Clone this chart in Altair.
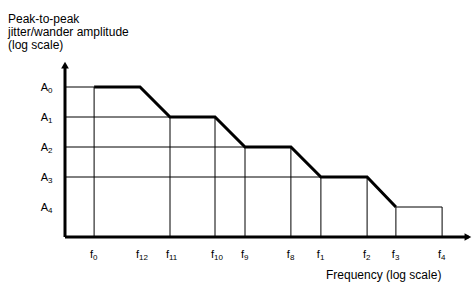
import altair as alt
import pandas as pd

# Frequency breakpoints (log-scale positions, arbitrary units) and labels
freq_base = ["f"] * 10
freq_sub = ["0", "12", "11", "10", "9", "8", "1", "2", "3", "4"]
freq_pos = [0.97, 2.5, 3.5, 5.0, 6.0, 7.53, 8.53, 10.07, 11.03, 12.57]

# Amplitude levels (log-scale positions) and labels
amp_base = ["A"] * 5
amp_sub = ["0", "1", "2", "3", "4"]
amp_pos = [5, 4, 3, 2, 1]

F = dict(zip(["f" + s for s in freq_sub], freq_pos))
A = dict(zip(["A" + s for s in amp_sub], amp_pos))

# mask profile (thick part)
profile_f = ["f0", "f12", "f11", "f10", "f9", "f8", "f1", "f2", "f3"]
profile_a = ["A0", "A0", "A1", "A1", "A2", "A2", "A3", "A3", "A4"]
# thin tail
tail_f = ["f3", "f4"]
tail_a = ["A4", "A4"]
# vertical drop lines: frequency -> level
vert_f = ["f0", "f11", "f10", "f9", "f8", "f1", "f2", "f3", "f4"]
vert_a = ["A0", "A1", "A1", "A2", "A2", "A3", "A3", "A4", "A4"]
# horizontal guide lines: level -> frequency
horiz_a = ["A0", "A1", "A2", "A3"]
horiz_f = ["f0", "f11", "f9", "f1"]

X_MAX = 13.6
Y_MAX = 5.9

font = "Liberation Sans"
MAIN = 11
SUB = 8

xs = alt.Scale(domain=[0, X_MAX], nice=False, zero=False)
ys = alt.Scale(domain=[0, Y_MAX], nice=False, zero=False)

prof = pd.DataFrame({"x": [F[k] for k in profile_f], "y": [A[k] for k in profile_a], "o": range(len(profile_f))})
tail = pd.DataFrame({"x": [F[k] for k in tail_f], "y": [A[k] for k in tail_a], "o": range(2)})
verts = pd.DataFrame({"x": [F[k] for k in vert_f], "y": [A[k] for k in vert_a], "y2": 0})
horiz = pd.DataFrame({"x": 0, "x2": [F[k] for k in horiz_f], "y": [A[k] for k in horiz_a]})
xlab = pd.DataFrame({"x": freq_pos, "b": freq_base, "s": freq_sub})
ylab = pd.DataFrame({"y": amp_pos, "b": amp_base, "s": amp_sub})
axes = pd.DataFrame({"x": [0, 0], "y": [0, 0], "x2": [X_MAX - 0.15, 0], "y2": [0, Y_MAX - 0.2]})
arrows = pd.DataFrame({"x": [X_MAX - 0.17, 0], "y": [0, Y_MAX - 0.17], "a": [90, 0]})

noax = dict(axis=None)
X = lambda f="x:Q": alt.X(f, scale=xs, **noax)
Y = lambda f="y:Q": alt.Y(f, scale=ys, **noax)

vlines = alt.Chart(verts).mark_rule(color="black", strokeWidth=1).encode(x=X(), y=Y(), y2="y2:Q")
hlines = alt.Chart(horiz).mark_rule(color="black", strokeWidth=1).encode(x=X(), x2="x2:Q", y=Y())
tline = alt.Chart(tail).mark_line(color="black", strokeWidth=1).encode(x=X(), y=Y(), order="o:Q")
pline = alt.Chart(prof).mark_line(color="black", strokeWidth=3, strokeJoin="miter").encode(
    x=X(), y=Y(), order="o:Q")
axl = alt.Chart(axes).mark_rule(color="black", strokeWidth=3).encode(x=X(), x2="x2:Q", y=Y(), y2="y2:Q")
arr = alt.Chart(arrows).mark_point(shape="triangle-up", filled=True, color="black", size=60, opacity=1).encode(
    x=X(), y=Y(), angle=alt.Angle("a:Q", scale=None))

# frequency tick labels: base letter + smaller subscript
xlab_b = alt.Chart(xlab).mark_text(
    font=font, fontSize=MAIN, color="black", align="right", baseline="alphabetic", dx=-1).encode(
    x=X(), y=alt.value(198), text="b:N")
xlab_s = alt.Chart(xlab).mark_text(
    font=font, fontSize=SUB, color="black", align="left", baseline="alphabetic", dx=-1).encode(
    x=X(), y=alt.value(200), text="s:N")

# amplitude tick labels
yl_b = alt.Chart(ylab).mark_text(
    font=font, fontSize=MAIN, color="black", align="right", baseline="alphabetic", dy=4).encode(
    x=alt.value(-17), y=Y(), text="b:N")
yl_s = alt.Chart(ylab).mark_text(
    font=font, fontSize=SUB, color="black", align="left", baseline="alphabetic", dy=6).encode(
    x=alt.value(-17), y=Y(), text="s:N")

ytitle = alt.Chart(pd.DataFrame({"t": [["Peak-to-peak", "jitter/wander amplitude", "(log scale)"]]})).mark_text(
    font=font, fontSize=12, color="black", align="left", baseline="alphabetic", lineHeight=13).encode(
    x=alt.value(-57), y=alt.value(-37), text="t")
xtitle = alt.Chart(pd.DataFrame({"t": ["Frequency (log scale)"]})).mark_text(
    font=font, fontSize=12, color="black", align="left", baseline="alphabetic").encode(
    x=alt.value(261), y=alt.value(219), text="t:N")

chart = alt.layer(vlines, hlines, tline, pline, axl, arr, xlab_b, xlab_s, yl_b, yl_s, ytitle, xtitle).properties(
    width=408, height=177,
    autosize=alt.AutoSizeParams(type="none"),
    padding={"left": 65, "top": 60, "right": 3, "bottom": 62},
    background="white",
).configure_view(stroke=None)

chart.save("out.html", embed_options={"renderer": "svg", "actions": False})
